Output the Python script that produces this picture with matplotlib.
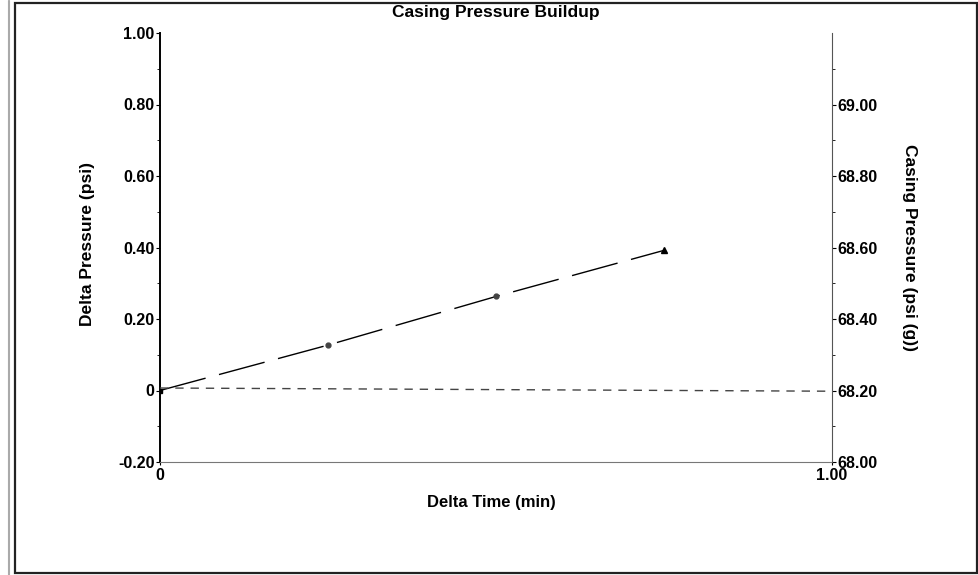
import matplotlib
matplotlib.use('Agg')
import matplotlib.pyplot as plt
from matplotlib.patches import Rectangle

plt.rcParams['font.family'] = ['Liberation Sans', 'DejaVu Sans']
plt.rcParams['font.weight'] = 'bold'

# Buildup readings
delta_time = [0.0, 0.25, 0.50, 0.75]          # min
delta_pressure = [0.0, 0.127, 0.263, 0.392]   # psi

# Casing pressure trace (right axis)
casing_time = [0.0, 1.0]
casing_pressure = [68.207, 68.198]            # psi (g)

left_ticks = [-0.2, 0.0, 0.2, 0.4, 0.6, 0.8, 1.0]
left_labels = ['-0.20', '0', '0.20', '0.40', '0.60', '0.80', '1.00']
right_ticks = [68.0, 68.2, 68.4, 68.6, 68.8, 69.0]
right_labels = ['68.00', '68.20', '68.40', '68.60', '68.80', '69.00']
x_ticks = [0.0, 1.0]
x_labels = ['0', '1.00']

fig = plt.figure(figsize=(9.79, 5.75), dpi=100)
ax = fig.add_axes([160 / 979, 113 / 575, 672 / 979, 429 / 575])
ax2 = ax.twinx()

# outer frame of the page
fig.patches.append(Rectangle((15 / 979, 2 / 575), 962 / 979, 570 / 575,
                             transform=fig.transFigure, fill=False,
                             edgecolor='#222222', linewidth=1.6))
fig.patches.append(Rectangle((8 / 979, 0), 0.001, 1,
                             transform=fig.transFigure, fill=False,
                             edgecolor='#aaaaaa', linewidth=0.8))

ax.plot(delta_time, delta_pressure, color='black', linewidth=1.0,
        dashes=[34, 10])
ax.plot(delta_time[:1], delta_pressure[:1], 's', color='black', markersize=3)
ax.plot(delta_time[1:3], delta_pressure[1:3], 'o', color='#444444',
        markersize=3.5)
ax.plot(delta_time[3:], delta_pressure[3:], '^', color='black', markersize=4.5)

ax2.plot(casing_time, casing_pressure, color='#444444', linewidth=1.0,
         dashes=[6, 5])

ax.set_xlim(0, 1)
ax.set_ylim(-0.2, 1.0)
ax2.set_ylim(68.0, 69.2)

ax.set_xticks(x_ticks)
ax.set_xticklabels(x_labels)
ax.set_yticks(left_ticks)
ax.set_yticklabels(left_labels)
ax.set_yticks([-0.1, 0.1, 0.3, 0.5, 0.7, 0.9], minor=True)
ax2.set_yticks(right_ticks)
ax2.set_yticklabels(right_labels)
ax2.set_yticks([68.1, 68.3, 68.5, 68.7, 68.9, 69.1], minor=True)

for a in (ax, ax2):
    a.tick_params(axis='both', which='major', labelsize=11.5, length=3,
                  width=0.8, pad=1)
    a.tick_params(axis='both', which='minor', length=2, width=0.6)
    a.spines['top'].set_visible(False)

ax.tick_params(axis='x', length=2, pad=2)
ax.spines['left'].set_linewidth(1.4)
ax.spines['bottom'].set_color('#777777')
ax.spines['right'].set_visible(False)
ax2.spines['left'].set_visible(False)
ax2.spines['bottom'].set_visible(False)
ax2.spines['right'].set_color('#555555')

fig.text(496 / 979, 1 - 12 / 575, 'Casing Pressure Buildup', ha='center',
         va='center', fontsize=12.5)
fig.text(491 / 979, 1 - 502 / 575, 'Delta Time (min)', ha='center',
         va='center', fontsize=12)
fig.text(88 / 979, 1 - 244 / 575, 'Delta Pressure (psi)', ha='center',
         va='center', rotation=90, fontsize=12.5)
fig.text(910 / 979, 1 - 248 / 575, 'Casing Pressure (psi (g))', ha='center',
         va='center', rotation=270, fontsize=12.5)

fig.savefig('out.png', dpi=100)
